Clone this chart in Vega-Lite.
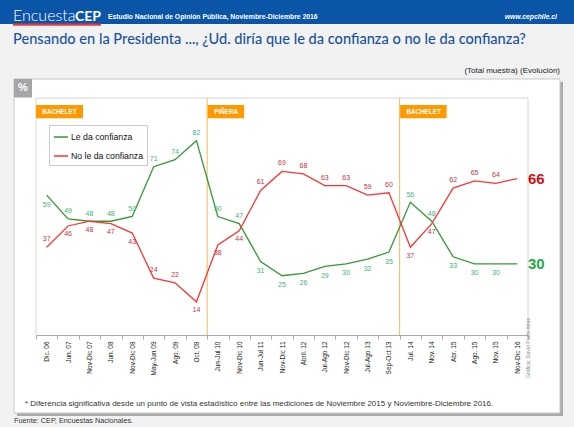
{
  "$schema": "https://vega.github.io/schema/vega-lite/v6.json",
  "width": 574,
  "height": 335,
  "autosize": {"type": "none"},
  "padding": {"left": 0, "top": 0, "right": 0, "bottom": 92},
  "background": "#f2f2f2",
  "config": {
    "view": {"stroke": null},
    "font": "Liberation Sans",
    "axisY": {"disable": true}
  },
  "datasets": {
    "confianza": [
      {"periodo": "Dic. 06", "Le da confianza": 59, "No le da confianza": 37},
      {"periodo": "Jun. 07", "Le da confianza": 49, "No le da confianza": 46},
      {"periodo": "Nov-Dic 07", "Le da confianza": 48, "No le da confianza": 48},
      {"periodo": "Jun. 08", "Le da confianza": 48, "No le da confianza": 47},
      {"periodo": "Nov-Dic 08", "Le da confianza": 50, "No le da confianza": 43},
      {"periodo": "May-Jun 09", "Le da confianza": 71, "No le da confianza": 24},
      {"periodo": "Ago. 09", "Le da confianza": 74, "No le da confianza": 22},
      {"periodo": "Oct. 09", "Le da confianza": 82, "No le da confianza": 14},
      {"periodo": "Jun-Jul 10", "Le da confianza": 50, "No le da confianza": 38},
      {"periodo": "Nov-Dic 10", "Le da confianza": 47, "No le da confianza": 44},
      {"periodo": "Jun-Jul 11", "Le da confianza": 31, "No le da confianza": 61},
      {"periodo": "Nov-Dic 11", "Le da confianza": 25, "No le da confianza": 69},
      {"periodo": "Abril. 12", "Le da confianza": 26, "No le da confianza": 68},
      {"periodo": "Jul-Ago 12", "Le da confianza": 29, "No le da confianza": 63},
      {"periodo": "Nov-Dic 12", "Le da confianza": 30, "No le da confianza": 63},
      {"periodo": "Jul-Ago 13", "Le da confianza": 32, "No le da confianza": 59},
      {"periodo": "Sep-Oct 13", "Le da confianza": 35, "No le da confianza": 60},
      {"periodo": "Jul. 14", "Le da confianza": 56, "No le da confianza": 37},
      {"periodo": "Nov. 14", "Le da confianza": 48, "No le da confianza": 47},
      {"periodo": "Abr. 15", "Le da confianza": 33, "No le da confianza": 62},
      {"periodo": "Ago. 15", "Le da confianza": 30, "No le da confianza": 65},
      {"periodo": "Nov. 15", "Le da confianza": 30, "No le da confianza": 64},
      {"periodo": "Nov-Dic 16", "Le da confianza": 30, "No le da confianza": 66}
    ]
  },
  "layer": [
    {
      "data": {"values": [{}]},
      "mark": {"type": "rect", "fill": "#ababab", "xOffset": -19, "x2Offset": 35},
      "encoding": {"x": {"datum": "Dic. 06", "bandPosition": 0}, "x2": {"datum": "Nov-Dic 16", "bandPosition": 1}, "y": {"datum": 106.75}, "y2": {"datum": -34.18}}
    },
    {
      "data": {"values": [{}]},
      "mark": {"type": "rect", "fill": "white", "stroke": "#c8c8c8", "strokeWidth": 1, "xOffset": -22, "x2Offset": 32},
      "encoding": {"x": {"datum": "Dic. 06", "bandPosition": 0}, "x2": {"datum": "Nov-Dic 16", "bandPosition": 1}, "y": {"datum": 108.02}, "y2": {"datum": -32.91}}
    },
    {
      "data": {"values": [{}]},
      "mark": {"type": "rect", "fill": "#0b55a8", "xOffset": -36, "x2Offset": 46},
      "encoding": {"x": {"datum": "Dic. 06", "bandPosition": 0}, "x2": {"datum": "Nov-Dic 16", "bandPosition": 1}, "y": {"datum": 142}, "y2": {"datum": 131.22}}
    },
    {
      "data": {"values": [{}]},
      "mark": {"type": "rule", "stroke": "#e8383d", "strokeWidth": 2.2, "xOffset": -23, "x2Offset": 65},
      "encoding": {"x": {"datum": "Dic. 06", "bandPosition": 0}, "x2": {"datum": "Dic. 06", "bandPosition": 0}, "y": {"datum": 131.0}}
    },
    {
      "data": {"values": [{}]},
      "mark": {"type": "text", "text": "Encuesta", "align": "left", "baseline": "alphabetic", "dx": -23, "font": "Lato", "fontWeight": 300, "fontSize": 16, "color": "white"},
      "encoding": {"x": {"datum": "Dic. 06", "bandPosition": 0}, "y": {"datum": 132.7}}
    },
    {
      "data": {"values": [{}]},
      "mark": {"type": "text", "text": "CEP", "align": "right", "baseline": "alphabetic", "dx": 65, "font": "Lato", "fontWeight": "bold", "fontSize": 14, "color": "white"},
      "encoding": {"x": {"datum": "Dic. 06", "bandPosition": 0}, "y": {"datum": 132.7}}
    },
    {
      "data": {"values": [{}]},
      "mark": {"type": "text", "text": "Estudio Nacional de Opinión Pública, Noviembre-Diciembre 2016", "align": "left", "baseline": "alphabetic", "dx": 72, "fontWeight": "bold", "fontSize": 6.8, "color": "white"},
      "encoding": {"x": {"datum": "Dic. 06", "bandPosition": 0}, "y": {"datum": 133.5}}
    },
    {
      "data": {"values": [{}]},
      "mark": {"type": "text", "text": "www.cepchile.cl", "align": "right", "baseline": "alphabetic", "dx": 29, "fontWeight": "bold", "fontStyle": "italic", "fontSize": 6.8, "color": "white"},
      "encoding": {"x": {"datum": "Nov-Dic 16", "bandPosition": 1}, "y": {"datum": 133.5}}
    },
    {
      "data": {"values": [{}]},
      "mark": {"type": "text", "text": "Pensando en la Presidenta ..., ¿Ud. diría que le da confianza o no le da confianza?", "align": "left", "baseline": "middle", "dx": -23, "font": "Lato", "fontSize": 14.6, "fontWeight": 500, "color": "#1a52a0"},
      "encoding": {"x": {"datum": "Dic. 06", "bandPosition": 0}, "y": {"datum": 124.5}}
    },
    {
      "data": {"values": [{}]},
      "mark": {"type": "text", "text": "(Total muestra) (Evolución)", "align": "right", "baseline": "middle", "dx": 32, "fontSize": 8, "color": "#222222"},
      "encoding": {"x": {"datum": "Nov-Dic 16", "bandPosition": 1}, "y": {"datum": 111.2}}
    },
    {
      "data": {"values": [{}]},
      "mark": {"type": "rect", "fill": "#a6a6a6", "xOffset": -22, "x2Offset": -4},
      "encoding": {"x": {"datum": "Dic. 06", "bandPosition": 0}, "x2": {"datum": "Dic. 06", "bandPosition": 0}, "y": {"datum": 108.02}, "y2": {"datum": 100.2}}
    },
    {
      "data": {"values": [{}]},
      "mark": {"type": "text", "text": "%", "align": "center", "baseline": "middle", "dx": -13, "fontWeight": "bold", "fontSize": 11, "color": "white"},
      "encoding": {"x": {"datum": "Dic. 06", "bandPosition": 0}, "y": {"datum": 104.1}}
    },
    {
      "data": {"values": [{}]},
      "mark": {"type": "rule", "stroke": "#d4d4d4", "strokeWidth": 1},
      "encoding": {"x": {"datum": "Dic. 06", "bandPosition": 0}, "y": {"datum": 0}, "y2": {"datum": 100}}
    },
    {
      "data": {"values": [{}]},
      "mark": {"type": "rule", "stroke": "#d4d4d4", "strokeWidth": 1},
      "encoding": {"x": {"datum": "Nov-Dic 16", "bandPosition": 1}, "y": {"datum": 0}, "y2": {"datum": 100}}
    },
    {
      "data": {"values": [{}]},
      "mark": {"type": "rule", "stroke": "#d4d4d4", "strokeWidth": 1},
      "encoding": {"x": {"datum": "Dic. 06", "bandPosition": 0}, "x2": {"datum": "Nov-Dic 16", "bandPosition": 1}, "y": {"datum": 100}}
    },
    {
      "data": {"values": [{}]},
      "mark": {"type": "rule", "stroke": "#f7b55e", "strokeWidth": 1},
      "encoding": {"x": {"datum": "Jun-Jul 10", "bandPosition": 0}, "y": {"datum": 0}, "y2": {"datum": 100}}
    },
    {
      "data": {"values": [{}]},
      "mark": {"type": "rule", "stroke": "#f7b55e", "strokeWidth": 1},
      "encoding": {"x": {"datum": "Jul. 14", "bandPosition": 0}, "y": {"datum": 0}, "y2": {"datum": 100}}
    },
    {
      "data": {"values": [{}]},
      "mark": {"type": "rect", "fill": "#ff9900", "x2Offset": 47},
      "encoding": {"x": {"datum": "Dic. 06", "bandPosition": 0}, "x2": {"datum": "Dic. 06", "bandPosition": 0}, "y": {"datum": 97.05}, "y2": {"datum": 91.43}}
    },
    {
      "data": {"values": [{}]},
      "mark": {"type": "text", "text": "BACHELET", "align": "center", "baseline": "middle", "dx": 23.5, "fontWeight": "bold", "fontSize": 6.3, "color": "white"},
      "encoding": {"x": {"datum": "Dic. 06", "bandPosition": 0}, "y": {"datum": 94.2}}
    },
    {
      "data": {"values": [{}]},
      "mark": {"type": "rect", "fill": "#ff9900", "xOffset": 0.5, "x2Offset": 37},
      "encoding": {"x": {"datum": "Jun-Jul 10", "bandPosition": 0}, "x2": {"datum": "Jun-Jul 10", "bandPosition": 0}, "y": {"datum": 97.05}, "y2": {"datum": 91.43}}
    },
    {
      "data": {"values": [{}]},
      "mark": {"type": "text", "text": "PIÑERA", "align": "center", "baseline": "middle", "dx": 19, "fontWeight": "bold", "fontSize": 6.3, "color": "white"},
      "encoding": {"x": {"datum": "Jun-Jul 10", "bandPosition": 0}, "y": {"datum": 94.2}}
    },
    {
      "data": {"values": [{}]},
      "mark": {"type": "rect", "fill": "#ff9900", "xOffset": 0.5, "x2Offset": 47},
      "encoding": {"x": {"datum": "Jul. 14", "bandPosition": 0}, "x2": {"datum": "Jul. 14", "bandPosition": 0}, "y": {"datum": 97.05}, "y2": {"datum": 91.43}}
    },
    {
      "data": {"values": [{}]},
      "mark": {"type": "text", "text": "BACHELET", "align": "center", "baseline": "middle", "dx": 24, "fontWeight": "bold", "fontSize": 6.3, "color": "white"},
      "encoding": {"x": {"datum": "Jul. 14", "bandPosition": 0}, "y": {"datum": 94.2}}
    },
    {
      "data": {"name": "confianza"},
      "transform": [{"fold": ["Le da confianza", "No le da confianza"], "as": ["serie", "valor"]}],
      "mark": {"type": "line", "strokeWidth": 1.3},
      "encoding": {
        "x": {
          "field": "periodo", "type": "nominal",
          "scale": {"type": "band", "domain": ["Dic. 06","Jun. 07","Nov-Dic 07","Jun. 08","Nov-Dic 08","May-Jun 09","Ago. 09","Oct. 09","Jun-Jul 10","Nov-Dic 10","Jun-Jul 11","Nov-Dic 11","Abril. 12","Jul-Ago 12","Nov-Dic 12","Jul-Ago 13","Sep-Oct 13","Jul. 14","Nov. 14","Abr. 15","Ago. 15","Nov. 15","Nov-Dic 16"], "range": [36, 528], "paddingInner": 0, "paddingOuter": 0},
          "axis": {"title": null, "labelAngle": 270, "labelFontSize": 6.5, "labelFont": "Liberation Sans", "labelColor": "#1a1a1a", "tickBand": "extent", "tickSize": 4, "tickColor": "#aaaaaa", "domainColor": "#aaaaaa", "labelPadding": 2, "grid": false, "zindex": 1}
        },
        "y": {"field": "valor", "type": "quantitative", "scale": {"domain": [0, 100], "range": [335, 98], "nice": false, "zero": false}},
        "color": {"field": "serie", "type": "nominal", "scale": {"domain": ["Le da confianza", "No le da confianza"], "range": ["#339933", "#ff3333"]}, "legend": {"title": null, "orient": "none", "legendX": 49, "legendY": 125, "fillColor": "white", "strokeColor": "#c8c8c8", "padding": 4, "symbolType": "stroke", "symbolSize": 196, "symbolStrokeWidth": 1.5, "labelFontSize": 8.7, "labelFont": "Liberation Sans", "labelColor": "#111111", "rowPadding": 6, "labelOffset": 2, "labelLimit": 200}}
      }
    },
    {
      "data": {"name": "confianza"},
      "transform": [{"filter": "datum['Le da confianza'] >= datum['No le da confianza'] && datum.periodo != 'Dic. 06' && datum.periodo != 'Nov-Dic 16'"}],
      "mark": {"type": "text", "baseline": "middle", "dy": -7.5, "fontSize": 7, "color": "#3cb371"},
      "encoding": {"x": {"field": "periodo", "type": "nominal"}, "y": {"field": "Le da confianza", "type": "quantitative"}, "text": {"field": "Le da confianza"}}
    },
    {
      "data": {"name": "confianza"},
      "transform": [{"filter": "(datum['Le da confianza'] < datum['No le da confianza'] || datum.periodo == 'Dic. 06') && datum.periodo != 'Nov-Dic 16'"}],
      "mark": {"type": "text", "baseline": "middle", "dy": 9.5, "fontSize": 7, "color": "#3cb371"},
      "encoding": {"x": {"field": "periodo", "type": "nominal"}, "y": {"field": "Le da confianza", "type": "quantitative"}, "text": {"field": "Le da confianza"}}
    },
    {
      "data": {"name": "confianza"},
      "transform": [{"filter": "(datum['No le da confianza'] > datum['Le da confianza'] || datum.periodo == 'Dic. 06' || datum.periodo == 'May-Jun 09' || datum.periodo == 'Ago. 09') && datum.periodo != 'Nov-Dic 16'"}],
      "mark": {"type": "text", "baseline": "middle", "dy": -8, "fontSize": 7, "color": "#c8323c"},
      "encoding": {"x": {"field": "periodo", "type": "nominal"}, "y": {"field": "No le da confianza", "type": "quantitative"}, "text": {"field": "No le da confianza"}}
    },
    {
      "data": {"name": "confianza"},
      "transform": [{"filter": "!(datum['No le da confianza'] > datum['Le da confianza'] || datum.periodo == 'Dic. 06' || datum.periodo == 'May-Jun 09' || datum.periodo == 'Ago. 09') && datum.periodo != 'Nov-Dic 16'"}],
      "mark": {"type": "text", "baseline": "middle", "dy": 8.5, "fontSize": 7, "color": "#c8323c"},
      "encoding": {"x": {"field": "periodo", "type": "nominal"}, "y": {"field": "No le da confianza", "type": "quantitative"}, "text": {"field": "No le da confianza"}}
    },
    {
      "data": {"name": "confianza"},
      "transform": [{"filter": "datum.periodo == 'Nov-Dic 16'"}],
      "mark": {"type": "text", "baseline": "middle", "align": "center", "dx": 19, "fontSize": 15, "fontWeight": "bold", "color": "#cc1111"},
      "encoding": {"x": {"field": "periodo", "type": "nominal"}, "y": {"field": "No le da confianza", "type": "quantitative"}, "text": {"field": "No le da confianza"}}
    },
    {
      "data": {"name": "confianza"},
      "transform": [{"filter": "datum.periodo == 'Nov-Dic 16'"}],
      "mark": {"type": "text", "baseline": "middle", "align": "center", "dx": 19, "fontSize": 15, "fontWeight": "bold", "color": "#1faa4a"},
      "encoding": {"x": {"field": "periodo", "type": "nominal"}, "y": {"field": "Le da confianza", "type": "quantitative"}, "text": {"field": "Le da confianza"}}
    },
    {
      "data": {"values": [{}]},
      "mark": {"type": "text", "text": "* Diferencia significativa desde un punto de vista estadístico entre las mediciones de Noviembre 2015  y Noviembre-Diciembre 2016.", "align": "left", "baseline": "middle", "dx": -11, "fontSize": 8, "color": "#333333"},
      "encoding": {"x": {"datum": "Dic. 06", "bandPosition": 0}, "y": {"datum": -29.1}}
    },
    {
      "data": {"values": [{}]},
      "mark": {"type": "text", "text": "Fuente: CEP, Encuestas Nacionales.", "align": "left", "baseline": "middle", "dx": -22, "fontSize": 7.3, "color": "#333333"},
      "encoding": {"x": {"datum": "Dic. 06", "bandPosition": 0}, "y": {"datum": -36.3}}
    },
    {
      "data": {"values": [{}]},
      "mark": {"type": "text", "text": "Gráfica: David Parra Arias", "align": "center", "baseline": "middle", "angle": 270, "dx": 37, "fontSize": 5.2, "color": "#888888"},
      "encoding": {"x": {"datum": "Nov-Dic 16", "bandPosition": 1}, "y": {"datum": -21.1}}
    }
  ]
}
